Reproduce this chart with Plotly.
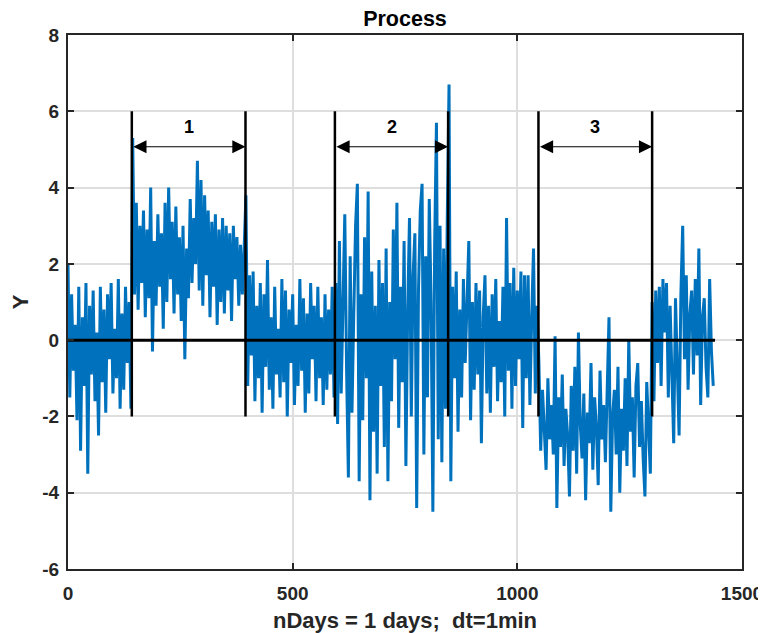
import plotly.graph_objects as go

STEP = 4
seg_A_start, seg_A = 0, [2.0, -1.5, 1.2, -0.8, 0.4, -2.1, 1.4, -2.9, 0.6, -1.2, 1.5, -3.5, 0.9, -0.9, 1.3, -1.6, 0.2, -2.5,
                         1.4, -1.1, 0.8, -1.9, 1.2, -0.5, 1.5, -1.4, 0.3, -1.0, 1.6, -1.8, 0.7, -1.3, 1.4, -0.6, 1.0, -1.8]
seg_B_start, seg_B = 144, [5.3, 1.2, 3.6, 0.8, 3.0, 1.5, 3.4, 0.6, 2.9, 1.1, 4.0, -0.3, 2.6, 0.9, 3.3, 1.4, 2.8, 0.3, 3.6,
                           1.0, 4.0, 1.6, 3.1, 0.7, 3.5, 1.2, 2.7, 0.5, 3.0, -0.5, 2.4, 1.1, 3.7, 1.5, 3.2, 2.0, 4.7, 1.3,
                           4.2, 0.9, 3.8, 1.7, 3.4, 0.6, 3.1, 1.4, 3.3, 0.4, 2.9, 1.0, 3.2, 0.7, 3.0, 1.3, 2.8, 0.5, 3.0,
                           1.6, 2.7, 0.9, 2.5, 1.2, 2.4]
seg_C_start, seg_C = 396, [3.8, -1.2, 1.7, -0.4, 1.8, -1.6, 0.9, -1.0, 1.5, -1.9, 1.2, -0.7, 2.1, -1.3, 0.6, -1.8, 1.4, -0.9,
                           0.3, -1.5, 1.6, -1.1, 1.3, -2.0, 0.8, -0.6, 1.2, -1.7, 0.4, -1.2, 1.6, -0.8, 1.1, -1.9, 0.7, -1.4,
                           1.5, -0.5, 0.9, -1.6, 1.4, -1.0, 0.6, -1.7, 1.2, -1.3, 0.8, -0.9, 1.4, -1.5]
seg_D_start, seg_D = 596, [1.5, -2.2, 2.6, -1.4, 1.1, 3.3, -0.8, -3.6, 2.2, -1.9, 0.7, 3.0, 4.1, -3.7, 1.2, -2.1, 2.7, -1.0,
                           3.9, -4.2, 1.8, -2.4, 0.9, -3.5, 2.1, -1.2, 1.5, -2.8, 2.4, -3.7, 1.0, -1.6, 2.9, -0.5, 3.6, -2.3,
                           1.4, -1.1, 2.6, -3.3, 0.8, 3.2, -2.0, 1.7, 2.8, -4.4, 1.3, 3.4, 4.1, -3.0, 2.2, -1.5, 3.7, 1.0,
                           -4.5, 2.5, 5.7, -2.6, 3.0, -3.2, 2.4, -1.8, 3.1]
seg_E_start, seg_E = 848, [6.7, -3.7, 1.4, -1.0, 1.8, -2.4, 0.8, -1.5, 1.6, -0.6, 1.1, 2.6, -2.1, 1.0, -1.3, 1.5, -0.9, 1.3,
                           -2.7, 0.6, 1.7, -1.4, 0.9, -1.9, 1.2, -0.7, 1.6, -1.6, 0.5, -1.1, 1.4, -2.0, 3.2, -0.8, 1.5, -1.8,
                           1.9, -1.2, 1.3, -0.5, 1.8, -2.3, 1.7, -1.0, 1.7, -1.7, 0.6, 2.4, -1.4, 0.9]
seg_F_start, seg_F = 1048, [-0.6, -2.9, -1.3, -2.4, -3.4, -1.0, -2.6, -1.7, -3.0, 0.1, -4.4, -1.5, -2.8, -0.9, -3.3, -1.8,
                            -2.5, -4.1, -1.2, -2.9, -0.7, -3.5, 0.2, -2.2, -3.1, -1.4, -4.2, -1.9, -2.7, -0.6, -3.4, -1.5,
                            -2.3, -3.8, -0.8, -2.6, -1.7, -3.2, -1.1, 0.6, -4.5, -2.0, -1.3, -3.0, -0.7, -4.0, -1.8, -2.9,
                            -1.0, -3.3, 0.0, -2.4, -1.5, -3.6, -1.2, -0.6, -2.8, -1.6, -3.1, -4.1, -1.1, -2.5, -3.5]
seg_G_start, seg_G = 1300, [1.0, -1.6, 1.3, -0.6, 1.4, -1.2, 1.6, 0.2, 1.5, -1.5, 0.9, -0.8, -2.7, 1.1, -1.0, -2.5, 1.2,
                            3.0, -0.5, 1.7, -1.3, 0.7, 1.3, -0.9, 1.6, -0.4, 2.4, -1.7, 0.6, 1.1, -0.7, -1.5, 1.6, -0.3,
                            -1.2]

segments = [(seg_A_start, seg_A), (seg_B_start, seg_B), (seg_C_start, seg_C), (seg_D_start, seg_D),
            (seg_E_start, seg_E), (seg_F_start, seg_F), (seg_G_start, seg_G)]

t_min, y_val = [], []
for start, vals in segments:
    for i, v in enumerate(vals):
        t_min.append(start + STEP * i)
        y_val.append(v)

signal_end = 1440
marker_x = [142, 395, 594, 846, 1047, 1300]
marker_top = 6.0
marker_bottom = -2.0
arrow_y = 5.07
arrow_pairs = [(142, 395), (594, 846), (1047, 1300)]
arrow_labels = ["1", "2", "3"]
label_y = 5.6

x_ticks = [0, 500, 1000, 1500]
y_ticks = [-6, -4, -2, 0, 2, 4, 6, 8]
y_tick_text = ["-6", "-4", "-2", "0", "2", "4", "6", "8"]

BLUE = "#0072BD"
AXC = "#262626"
FONT = "Arial, Liberation Sans, Helvetica, sans-serif"

fig = go.Figure()
fig.add_trace(go.Scatter(x=t_min, y=y_val, mode="lines", line=dict(color=BLUE, width=3), showlegend=False))
fig.add_trace(go.Scatter(x=[0, signal_end], y=[0, 0], mode="lines", line=dict(color="black", width=3), showlegend=False))
for mx in marker_x:
    fig.add_trace(go.Scatter(x=[mx, mx], y=[marker_bottom, marker_top], mode="lines",
                             line=dict(color="black", width=2.5), showlegend=False))

for (a, b), lab in zip(arrow_pairs, arrow_labels):
    fig.add_annotation(x=b, y=arrow_y, ax=a, ay=arrow_y, xref="x", yref="y", axref="x", ayref="y",
                       text="", showarrow=True, arrowhead=2, startarrowhead=2, arrowside="end+start",
                       arrowsize=2.2, startarrowsize=2.2, arrowwidth=1.2, arrowcolor="black",
                       standoff=0, startstandoff=0)
    fig.add_annotation(x=(a + b) / 2, y=label_y, xref="x", yref="y", text=lab, showarrow=False,
                       font=dict(family=FONT, size=18, color="black", weight="bold"))

axis_common = dict(showline=True, linecolor=AXC, linewidth=2, mirror="allticks", ticks="inside",
                   ticklen=6, tickwidth=2, tickcolor=AXC, showgrid=True, gridcolor="#dedede", gridwidth=1.5,
                   zeroline=False, automargin=False,
                   tickfont=dict(family=FONT, size=19, color=AXC, weight="bold"))

# page body adds an 8px offset, so the figure is 8px smaller than the window
fig.update_layout(
    width=758, height=625,
    margin=dict(l=60, r=24, t=27, b=64),
    paper_bgcolor="white", plot_bgcolor="white",
    title=dict(text="Process", x=0.5, xanchor="center", xref="paper", y=1 - 10 / 625, yanchor="middle",
               font=dict(family=FONT, size=21.5, color="black", weight="bold")),
    xaxis=dict(range=[0, 1500], tickvals=x_ticks, ticklabelstandoff=6,
               title=dict(text="nDays = 1 days;  dt=1min", standoff=10,
                          font=dict(family=FONT, size=22, color=AXC, weight="bold")),
               **axis_common),
    yaxis=dict(range=[-6, 8], tickvals=y_ticks, ticktext=y_tick_text, ticklabelstandoff=3,
               title=dict(text="Y", standoff=9, font=dict(family=FONT, size=22, color=AXC, weight="bold")),
               **axis_common),
)

fig.write_html("out.html")
